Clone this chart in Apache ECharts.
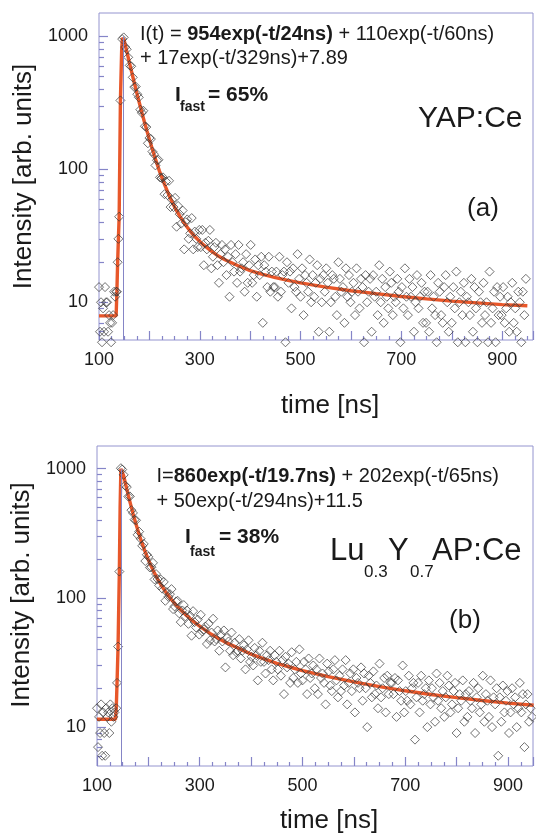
<!DOCTYPE html>
<html><head><meta charset="utf-8">
<script src="https://cdn.jsdelivr.net/npm/echarts@6/dist/echarts.min.js"></script>
<style>html,body{margin:0;padding:0;background:#fff}#c{width:536px;height:835px}</style>
</head><body><div id="c"></div>
<script>
// ---------- data ----------
const decayTimes = [149,152,155,158,161,164,167,170,173,176,179,182,185,188,191,194,197,200,203,206,209,212,215,218,221,224,227,230,233,236,239,242,245,248,251,254,257,260,263,266,269,272,275,278,281,284,287,290,293,296,299,302,305,308,311,314,317,320,323,326,329,332,335,338,341,344,347,350,353,356,359,362,365,368,371,374,377,380,383,386,389,392,395,398,401,404,407,410,413,416,419,422,425,428,431,434,437,440,443,446,449,452,455,458,461,464,467,470,473,476,479,482,485,488,491,494,497,500,503,506,509,512,515,518,521,524,527,530,533,536,539,542,545,548,551,554,557,560,563,566,569,572,575,578,581,584,587,590,593,596,599,602,605,608,611,614,617,620,623,626,629,632,635,638,641,644,647,650,653,656,659,662,665,668,671,674,677,680,683,686,689,692,695,698,701,704,707,710,713,716,719,722,725,728,731,734,737,740,743,746,749,752,755,758,761,764,767,770,773,776,779,782,785,788,791,794,797,800,803,806,809,812,815,818,821,824,827,830,833,836,839,842,845,848,851,854,857,860,863,866,869,872,875,878,881,884,887,890,893,896,899,902,905,908,911,914,917,920,923,926,929,932,935,938,941,944,947];

// panel (a) YAP:Ce
const riseTimesA  = [100,102,104,106,108,110,112,114,116,118,120,122,124,126,128,130,132,134,135.5,137,138.5,140,142.5,146];
const riseCountsA = [13,6,10,5,9,6,13,10,10,6,8,7,5,7,8,12,11,12,12,20,30,44,330,955];
const decayCountsA = [983,832,800,696,605,596,492,416,419,367,
348,281,266,276,211,208,157,172,169,136,
130,107,117,118,87,86,87,65,81,64,
82,52,59,52,61,37,53,46,39,49,
25,40,42,30,33,43,25,34,30,26,
35,26,35,19,28,25,29,35,18,22,
26,28,19,14,23,27,20,25,16,22,
11,27,20,17,23,14,27,17,18,20,
12,23,14,19,27,14,16,21,11,19,
16,22,7,19,17,13,22,12,17,13,
13,17,11,22,12,16,17,5,20,14,
17,9,18,13,12,23,15,11,18,8,
16,14,12,21,10,16,11,14,19,6,
15,10,16,12,18,14,6,10,16,15,
11,8,20,15,12,13,7,18,11,16,
10,12,14,8,18,12,9,15,13,5,
16,10,12,15,6,16,11,12,8,19,
10,15,7,13,11,9,17,14,8,11,
10,15,12,5,13,9,18,11,8,15,
11,13,6,10,16,9,11,14,7,12,
7,12,6,16,9,11,8,5,14,12,
8,7,13,16,10,6,11,7,13,9,
17,5,10,12,8,14,5,11,10,8,
15,6,13,9,5,12,10,7,14,8,
10,5,17,7,9,12,5,13,8,11,
8,13,7,9,11,6,10,14,7,9,
6,12,10,5,12,8,15];
const fitTimesA  = [100,134,135.5,137,138.5,140,142.5,145,146.5,150,155,160,165,170,175,180,185,190,195,200,210,220,230,240,250,260,270,280,290,305,320,335,350,375,400,425,450,475,500,550,600,650,700,750,800,850,900,950];
const fitValuesA = [7.9,7.9,12,20,30,44,330,800,975,935,775,644,537,448,376,317,268,228,195,168,126,97,77,62.5,52,44.6,39,34.6,31.2,27.5,24.7,22.5,20.9,18.9,17.3,16.2,15.3,14.6,14.0,13.0,12.2,11.6,11.05,10.6,10.2,9.9,9.6,9.4];

// panel (b) Lu0.3Y0.7AP:Ce
const riseTimesB  = [100,102,104,106,108,110,112,114,116,118,120,122,124,126,128,130,132,134,137.5,139,141,143.5,146.5];
const riseCountsB = [14,7,12,9,15,6,13,9,6,14,12,13,9,15,11,14,12,13,14,22,42,160,1010];
const decayCountsB = [986,897,741,721,609,611,478,455,403,399,
308,326,287,253,262,193,216,208,172,173,
187,139,153,140,125,139,118,133,95,111,
102,107,117,82,86,94,95,76,65,80,
88,72,80,63,73,51,79,65,59,68,
52,74,55,57,60,44,63,47,54,69,
46,48,56,39,52,46,56,29,49,46,
39,54,36,45,38,39,48,34,39,43,
28,40,47,32,35,30,41,36,23,39,
32,45,32,26,36,33,39,28,23,36,
32,28,39,25,33,18,35,29,31,22,
38,24,28,32,22,40,26,23,32,28,
18,34,24,26,30,20,28,18,34,24,
26,22,15,31,27,21,19,28,33,23,
17,25,19,28,21,33,15,22,26,19,
28,13,24,22,20,29,16,26,20,10,
25,22,17,27,18,21,14,31,17,20,
24,13,25,18,22,22,18,24,12,23,
19,16,30,13,19,16,25,15,20,22,
8,17,22,13,25,16,18,20,10,23,
15,20,17,11,26,16,22,14,19,12,
17,25,21,13,15,19,22,9,14,18,
16,23,11,18,12,19,16,14,22,9,
17,20,13,15,25,11,18,16,12,23,
10,17,15,20,6,17,11,21,13,16,
19,9,13,20,15,17,10,14,22,13,
18,7,15,18,11,14,12];
const fitTimesB  = [100,136,137.5,139,141,143.5,145,146.5,149,152,155,158,161,164,170,176,182,188,194,200,209,218,227,236,245,254,263,272,281,290,305,320,335,350,375,400,425,450,475,500,550,600,650,700,750,800,850,900,950];
const fitValuesB = [11.5,11.5,14,22,42,160,500,1000,992,879,780,695,621,557,451,372,310,263,226,197,164,140,122,108,97,88,81,74.6,69.3,64.7,58.3,53.2,49,45.3,40.9,36.7,33.8,31.2,29.2,27.4,24.6,22.4,20.6,19.1,17.9,16.9,16.06,15.35,14.75];

const xTickLabels = [100,300,500,700,900];
const yTickLabels = [10,100,1000];
const yMinorTicks = [6,7,8,9,20,30,40,50,60,70,80,90,200,300,400,500,600,700,800,900];
const markerTimes = [147.6, 146.4];

// ---------- chart ----------
const F = '"Liberation Sans", Arial, Helvetica, sans-serif';
const FRAME = '#9494cf';
const TICK = '#8585c8';
const ORANGE = '#e8572a';
const INK = '#1a1a1a';
const pairs = (ts, vs) => ts.map((t, i) => [t, vs[i]]);

const panels = [
  {grid:{left:99, top:13, width:445, height:327}, xMax:961.2, yMin:5.2, yMax:1500,
   xGap:53, yGap:50, yPad:[0,0,0,0],
   pts: pairs(riseTimesA.concat(decayTimes), riseCountsA.concat(decayCountsA)),
   fit: pairs(fitTimesA, fitValuesA), marker: markerTimes[0]},
  {grid:{left:97, top:446, width:438.5, height:326}, xMax:948.7, yMin:5, yMax:1500,
   xGap:42, yGap:47, yPad:[0,0,0,22],
   pts: pairs(riseTimesB.concat(decayTimes), riseCountsB.concat(decayCountsB)),
   fit: pairs(fitTimesB, fitValuesB), marker: markerTimes[1]}
];

const grid = [], xAxis = [], yAxis = [], series = [];
panels.forEach((p, i) => {
  grid.push(Object.assign({show:true, borderColor:FRAME, borderWidth:1, backgroundColor:'transparent'}, p.grid));
  xAxis.push({
    type:'value', gridIndex:i, position:'bottom', min:100, max:p.xMax, interval:100,
    axisLine:{show:false},
    axisTick:{show:true, inside:true, length:9, lineStyle:{color:TICK, width:1.2}},
    minorTick:{show:true, splitNumber:4, length:4, lineStyle:{color:TICK, width:1.2}},
    splitLine:{show:false}, minorSplitLine:{show:false},
    axisLabel:{fontFamily:F, fontSize:18, color:INK, margin:11,
      formatter: v => xTickLabels.indexOf(Math.round(v)) >= 0 && Math.abs(v - Math.round(v)) < 1e-6 ? String(Math.round(v)) : ''},
    name:'time [ns]', nameLocation:'middle', nameGap:p.xGap,
    nameTextStyle:{fontFamily:F, fontSize:26, color:INK, padding:[0,0,0,28]}
  });
  yAxis.push({
    type:'log', logBase:10, gridIndex:i, position:'left', offset:0, min:p.yMin, max:p.yMax,
    axisLine:{show:false},
    axisTick:{show:true, inside:true, length:9, customValues:yTickLabels, lineStyle:{color:TICK, width:1.2}},
    axisLabel:{show:true, customValues:yTickLabels, fontFamily:F, fontSize:18, color:INK, margin:11,
      formatter: v => String(Math.round(v))},
    splitLine:{show:false},
    name:'Intensity [arb. units]', nameLocation:'middle', nameGap:p.yGap,
    nameTextStyle:{fontFamily:F, fontSize:26, color:INK, padding:p.yPad}
  });
  yAxis.push({
    type:'log', logBase:10, gridIndex:i, position:'left', offset:0, min:p.yMin, max:p.yMax,
    axisLine:{show:false},
    axisTick:{show:true, inside:true, length:5, customValues:yMinorTicks, lineStyle:{color:TICK, width:1.2}},
    axisLabel:{show:false}, splitLine:{show:false}
  });
  series.push({
    type:'line', xAxisIndex:i, yAxisIndex:2*i, data:p.fit,
    symbol:'none', showSymbol:false, smooth:false, z:2,
    lineStyle:{color:ORANGE, width:3.4},
    markLine:{silent:true, symbol:['none','none'], label:{show:false},
      lineStyle:{color:'#8585c6', width:1, type:'solid'},
      data:[[{coord:[p.marker, p.yMin]}, {coord:[p.marker, 1000]}]]}
  });
  series.push({
    type:'scatter', xAxisIndex:i, yAxisIndex:2*i, data:p.pts,
    symbol:'diamond', symbolSize:9, clip:false, z:3,
    itemStyle:{color:'rgba(0,0,0,0)', borderColor:'#383838', borderWidth:0.9}
  });
});

function txt(x, y, text, size, bold, align) {
  return {type:'text', x:x, y:y, silent:true, z:10,
    style:{text:text, fill:INK, fontFamily:F, fontSize:size, fontWeight:bold ? 'bold' : 'normal',
      textAlign:align || 'left', align:align || 'left', textVerticalAlign:'middle', verticalAlign:'middle'}};
}
function richTxt(x, y, text) {
  return {type:'text', x:x, y:y, silent:true, z:10,
    style:{text:text, fill:INK, fontFamily:F, fontSize:20,
      textAlign:'left', align:'left', textVerticalAlign:'middle', verticalAlign:'middle',
      rich:{n:{fill:INK, fontFamily:F, fontSize:20}, b:{fill:INK, fontFamily:F, fontSize:20, fontWeight:'bold'}}}};
}

const graphic = [
  richTxt(140, 34.5, '{n|I(t) = }{b|954exp(-t/24ns)}{n| + 110exp(-t/60ns)}'),
  txt(140, 58.5, '+ 17exp(-t/329ns)+7.89', 20, false),
  txt(175, 95.5, 'I', 21, true),
  txt(180, 107.5, 'fast', 14, true),
  txt(208, 95.5, '= 65%', 21, true),
  txt(418, 119, 'YAP:Ce', 30, false),
  txt(483, 209, '(a)', 26, false, 'center'),

  richTxt(156.5, 476, '{n|I=}{b|860exp(-t/19.7ns)}{n| + 202exp(-t/65ns)}'),
  txt(156.5, 501, '+ 50exp(-t/294ns)+11.5', 20, false),
  txt(185, 537.5, 'I', 21, true),
  txt(190, 552, 'fast', 14, true),
  txt(219, 537.5, '= 38%', 21, true),
  txt(330, 551, 'Lu', 31, false),
  txt(364, 572, '0.3', 17, false),
  txt(388, 551, 'Y', 31, false),
  txt(410, 572, '0.7', 17, false),
  txt(432, 551, 'AP:Ce', 31, false),
  txt(465, 621, '(b)', 26, false, 'center')
];

const chart = echarts.init(document.getElementById('c'), null, {renderer:'canvas'});
chart.setOption({animation:false, backgroundColor:'#ffffff', grid, xAxis, yAxis, series, graphic});
</script></body></html>
